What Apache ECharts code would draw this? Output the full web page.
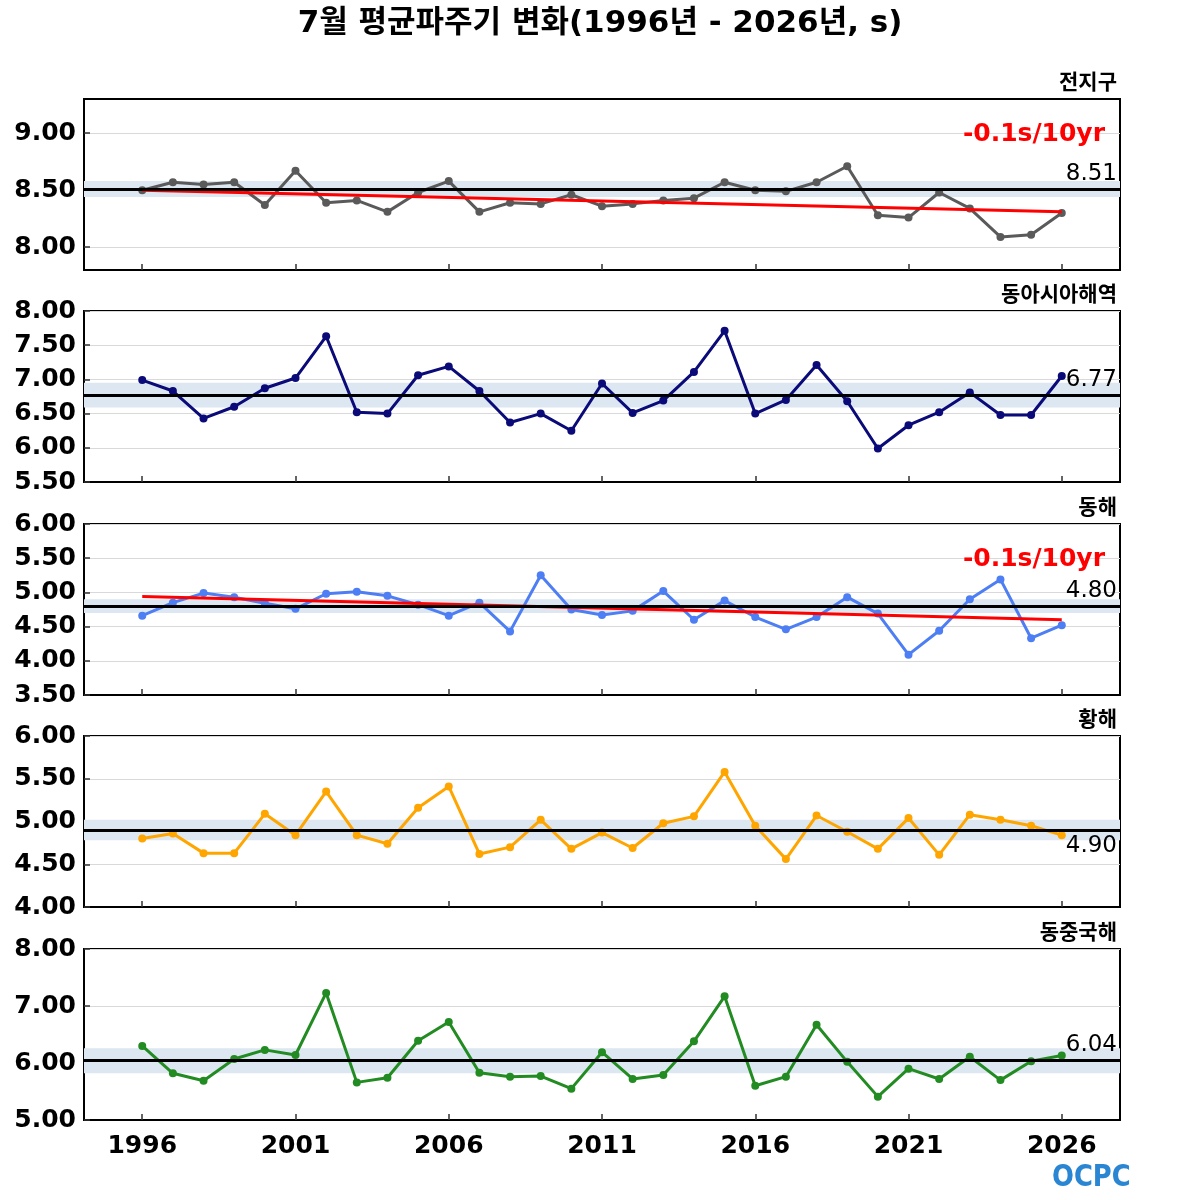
<!DOCTYPE html>
<html>
<head>
<meta charset="utf-8">
<script src="https://cdn.jsdelivr.net/npm/echarts@6/dist/echarts.min.js"></script>
<style>
  html, body { margin: 0; padding: 0; background: #fff; }
  #chart { width: 1200px; height: 1200px; }
</style>
</head>
<body>
<div id="chart"></div>
<script>
// 연도
const years = [1996, 1997, 1998, 1999, 2000, 2001, 2002, 2003, 2004, 2005,
  2006, 2007, 2008, 2009, 2010, 2011, 2012, 2013, 2014, 2015,
  2016, 2017, 2018, 2019, 2020, 2021, 2022, 2023, 2024, 2025, 2026];
const tickYears = [1996, 2001, 2006, 2011, 2016, 2021, 2026];

// 해역별 7월 평균파주기 (s)
const globalVals = [8.50, 8.57, 8.55, 8.57, 8.37, 8.67, 8.39, 8.41, 8.31, 8.48,
  8.58, 8.31, 8.39, 8.38, 8.46, 8.36, 8.38, 8.41, 8.43, 8.57,
  8.50, 8.49, 8.57, 8.71, 8.28, 8.26, 8.48, 8.34, 8.09, 8.11, 8.30];
const eastAsiaVals = [6.99, 6.83, 6.43, 6.60, 6.87, 7.02, 7.63, 6.52, 6.50, 7.06,
  7.19, 6.83, 6.37, 6.50, 6.25, 6.94, 6.51, 6.69, 7.11, 7.71,
  6.50, 6.70, 7.21, 6.68, 5.99, 6.33, 6.52, 6.81, 6.48, 6.48, 7.05];
const eastSeaVals = [4.66, 4.85, 4.99, 4.93, 4.84, 4.76, 4.98, 5.01, 4.95, 4.82,
  4.66, 4.85, 4.43, 5.25, 4.75, 4.67, 4.73, 5.02, 4.60, 4.88,
  4.64, 4.46, 4.64, 4.93, 4.69, 4.09, 4.44, 4.90, 5.19, 4.33, 4.52];
const yellowSeaVals = [4.80, 4.86, 4.63, 4.63, 5.09, 4.84, 5.35, 4.84, 4.74, 5.16,
  5.41, 4.62, 4.70, 5.02, 4.68, 4.87, 4.69, 4.98, 5.06, 5.58,
  4.95, 4.56, 5.07, 4.88, 4.68, 5.04, 4.61, 5.08, 5.02, 4.95, 4.84];
const eastChinaVals = [6.30, 5.82, 5.69, 6.07, 6.23, 6.14, 7.23, 5.66, 5.74, 6.39,
  6.72, 5.83, 5.76, 5.77, 5.55, 6.19, 5.72, 5.79, 6.38, 7.17,
  5.60, 5.76, 6.67, 6.02, 5.41, 5.90, 5.72, 6.11, 5.70, 6.03, 6.13];

const regionNames = ['전지구', '동아시아해역', '동해', '황해', '동중국해'];
const means = [8.51, 6.77, 4.80, 4.90, 6.04];
const bandHalf = [0.07, 0.18, 0.10, 0.12, 0.22];
// 추세선 시작/끝 값 (1996, 2026)
const trendStart = [8.50, null, 4.94, null, null];
const trendEnd = [8.31, null, 4.60, null, null];
const trendText = ['-0.1s/10yr', null, '-0.1s/10yr', null, null];

// y축
const yMin = [7.8, 5.5, 3.5, 4.0, 5.0];
const yMax = [9.3, 8.0, 6.0, 6.0, 8.0];
const yTicks = [[8.0, 8.5, 9.0], [5.5, 6.0, 6.5, 7.0, 7.5, 8.0], [3.5, 4.0, 4.5, 5.0, 5.5, 6.0],
  [4.0, 4.5, 5.0, 5.5, 6.0], [5.0, 6.0, 7.0, 8.0]];

const allVals = [globalVals, eastAsiaVals, eastSeaVals, yellowSeaVals, eastChinaVals];
const colors = ['#5a5a5a', '#0a0a78', '#4d7ef4', '#ffa500', '#228b22'];
const labelBelow = [false, false, false, true, false];

const tops = [99, 311, 524, 736, 949];
const H = 171;
const latin = "'DejaVu Sans', 'Noto Sans CJK KR', sans-serif";

const grids = [], xAxes = [], yAxes = [], series = [], graphics = [];

tops.forEach((top, i) => {
  grids.push({ left: 84, right: 80, top: top, height: H, show: true,
    borderColor: '#000', borderWidth: 2, backgroundColor: 'transparent' });

  xAxes.push({
    type: 'value', gridIndex: i, min: 1994.1, max: 2027.9,
    axisLine: { show: true, onZero: false, lineStyle: { color: '#000', width: 2 } },
    axisTick: { show: true, inside: true, length: 6, customValues: tickYears,
      lineStyle: { color: '#333', width: 1.5 } },
    axisLabel: { show: i === 4, customValues: tickYears, margin: 14,
      fontFamily: latin, fontWeight: 'bold', fontSize: 25, color: '#000',
      formatter: v => String(v) },
    splitLine: { show: false }
  });

  const y = {
    type: 'value', gridIndex: i, min: yMin[i], max: yMax[i],
    axisLine: { show: true, onZero: false, lineStyle: { color: '#000', width: 2 } },
    axisTick: { show: true, inside: true, length: 6, customValues: yTicks[i],
      lineStyle: { color: '#333', width: 1.5 } },
    axisLabel: { customValues: yTicks[i], margin: 8, fontFamily: latin,
      fontWeight: 'bold', fontSize: 25, color: '#000', formatter: v => v.toFixed(2) },
    splitLine: { show: true, lineStyle: { color: '#d9d9d9', width: 1 } }
  };
  if (i === 0) y.splitNumber = 3; else y.interval = (i === 4 ? 1 : 0.5);
  yAxes.push(y);

  // 평균 범위
  series.push({
    type: 'line', xAxisIndex: i, yAxisIndex: i, data: [], z: 1, silent: true,
    markArea: { silent: true, itemStyle: { color: '#dde7f1' },
      data: [[{ yAxis: means[i] - bandHalf[i] }, { yAxis: means[i] + bandHalf[i] }]] }
  });

  series.push({
    type: 'line', xAxisIndex: i, yAxisIndex: i, z: 2,
    data: years.map((yr, k) => [yr, allVals[i][k]]),
    symbol: 'circle', symbolSize: 8, showSymbol: true,
    lineStyle: { color: colors[i], width: 3 },
    itemStyle: { color: colors[i] },
    animation: false
  });

  // 평균선
  series.push({
    type: 'line', xAxisIndex: i, yAxisIndex: i, data: [], z: 3, silent: true,
    markLine: { silent: true, symbol: 'none', animation: false,
      lineStyle: { color: '#000', width: 3, type: 'solid' },
      label: { position: labelBelow[i] ? 'insideEndBottom' : 'insideEndTop',
        formatter: means[i].toFixed(2), fontFamily: latin, fontSize: 23,
        color: '#000', distance: [3, 4] },
      data: [{ yAxis: means[i] }] }
  });

  if (trendStart[i] !== null) {
    series.push({
      type: 'line', xAxisIndex: i, yAxisIndex: i, z: 4, silent: true,
      data: [[years[0], trendStart[i]], [years[years.length - 1], trendEnd[i]]],
      symbol: 'none', lineStyle: { color: '#ff0000', width: 3 }, animation: false
    });
    graphics.push({ type: 'text', right: 95, top: top + 23, z: 10,
      style: { text: trendText[i], fontFamily: latin, fontWeight: 'bold',
        fontSize: 25, fill: '#ff0000' } });
  }

  graphics.push({ type: 'text', right: 83, top: top - 28, z: 10,
    style: { text: regionNames[i], fontFamily: "'Noto Sans CJK KR', sans-serif",
      fontWeight: 'bold', fontSize: 21, fill: '#000' } });
});

// OCPC 로고
graphics.push({ type: 'text', left: 1052, top: 1163, z: 10, scaleX: 0.86,
  style: { text: 'OCPC', fontFamily: latin, fontWeight: 'bold', fontSize: 30,
    fill: '#2a86d2' } });

const chart = echarts.init(document.getElementById('chart'), null, { renderer: 'canvas' });
chart.setOption({
  backgroundColor: '#fff',
  animation: false,
  title: { text: '7월 평균파주기 변화(1996년 - 2026년, s)', left: 'center', top: 3,
    textStyle: { fontFamily: latin, fontWeight: 'bold', fontSize: 31, color: '#000' } },
  grid: grids, xAxis: xAxes, yAxis: yAxes, series: series, graphic: graphics
});
</script>
</body>
</html>
